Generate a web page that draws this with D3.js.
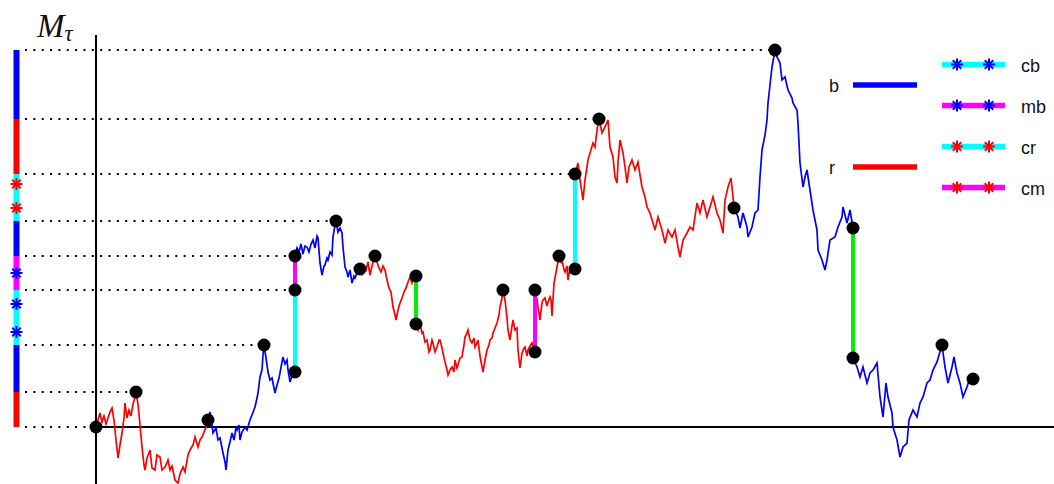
<!DOCTYPE html>
<html>
<head>
<meta charset="utf-8">
<script src="https://cdn.jsdelivr.net/npm/d3@7"></script>
<style>
  html, body { margin: 0; padding: 0; background: #fff; }
  svg { display: block; }
</style>
</head>
<body>
<svg id="chart" width="1054" height="484"></svg>
<script>
// Path of M over time, split into excursions; each entry is [t, M].
const segA = [[0,0],[0.02,0.07],[0.04,0.14],[0.06,0.05],[0.08,0.11],[0.10,0.03],[0.12,0.09],[0.14,0.15],[0.16,0.19],[0.18,0.07],[0.20,-0.13],[0.22,-0.31],[0.24,-0.18],[0.26,-0.06],[0.28,0.09],[0.29,0.24],[0.31,0.09],[0.33,0.17],[0.35,0.11],[0.37,0.23],[0.39,0.30],[0.40,0.35],[0.42,0.23],[0.44,0.02],[0.46,-0.20],[0.48,-0.38],[0.49,-0.43],[0.51,-0.31],[0.54,-0.23],[0.56,-0.41],[0.59,-0.43],[0.61,-0.28],[0.64,-0.30],[0.66,-0.43],[0.69,-0.40],[0.72,-0.33],[0.74,-0.43],[0.76,-0.39],[0.79,-0.53],[0.82,-0.56],[0.84,-0.47],[0.87,-0.40],[0.89,-0.45],[0.92,-0.28],[0.94,-0.23],[0.97,-0.18],[0.99,-0.10],[1.02,-0.20],[1.04,-0.13],[1.06,-0.10],[1.08,-0.05],[1.09,-0.03],[1.11,0.03],[1.12,0.07]];
const segB = [[1.12,0.07],[1.14,0.15],[1.16,0.02],[1.17,-0.06],[1.20,-0.01],[1.22,-0.13],[1.24,-0.11],[1.26,-0.21],[1.27,-0.26],[1.29,-0.35],[1.30,-0.43],[1.32,-0.23],[1.34,-0.15],[1.36,-0.06],[1.38,-0.13],[1.40,-0.01],[1.41,-0.03],[1.43,0.02],[1.44,-0.13],[1.46,-0.05],[1.49,0.00],[1.51,-0.03],[1.54,0.07],[1.56,0.12],[1.59,0.20],[1.61,0.29],[1.62,0.34],[1.64,0.50],[1.66,0.57],[1.67,0.72],[1.68,0.82],[1.70,0.69],[1.72,0.55],[1.74,0.47],[1.76,0.49],[1.78,0.39],[1.79,0.34],[1.81,0.42],[1.83,0.49],[1.84,0.54],[1.86,0.65],[1.87,0.70],[1.89,0.63],[1.91,0.67],[1.92,0.57],[1.94,0.45],[1.96,0.51],[1.99,0.55]];
const segC = [[1.99,1.71],[2.01,1.79],[2.03,1.75],[2.05,1.83],[2.07,1.73],[2.09,1.81],[2.11,1.80],[2.13,1.75],[2.15,1.83],[2.17,1.87],[2.19,1.79],[2.21,1.91],[2.22,1.89],[2.24,1.64],[2.26,1.52],[2.28,1.61],[2.29,1.62],[2.31,1.69],[2.32,1.67],[2.34,1.75],[2.36,1.72],[2.37,1.90],[2.39,2.02],[2.40,2.06],[2.42,1.95],[2.44,1.99],[2.46,1.94],[2.47,1.80],[2.49,1.60],[2.51,1.55],[2.52,1.50],[2.54,1.57],[2.56,1.44],[2.58,1.51],[2.59,1.49],[2.61,1.54],[2.64,1.58]];
const segD = [[2.64,1.58],[2.66,1.53],[2.68,1.61],[2.70,1.57],[2.72,1.65],[2.74,1.52],[2.76,1.61],[2.77,1.65],[2.79,1.71],[2.81,1.65],[2.83,1.59],[2.85,1.55],[2.87,1.61],[2.89,1.57],[2.91,1.47],[2.93,1.39],[2.95,1.35],[2.97,1.20],[2.99,1.12],[3.00,1.07],[3.02,1.17],[3.04,1.24],[3.06,1.29],[3.08,1.35],[3.10,1.39],[3.12,1.45],[3.14,1.50],[3.16,1.44],[3.18,1.51],[3.20,1.51]];
const segE = [[3.20,1.03],[3.22,0.97],[3.24,1.04],[3.26,0.94],[3.27,0.95],[3.29,0.85],[3.31,0.87],[3.33,0.75],[3.34,0.77],[3.36,0.87],[3.37,0.84],[3.39,0.75],[3.41,0.80],[3.43,0.87],[3.44,0.87],[3.46,0.79],[3.47,0.74],[3.49,0.65],[3.51,0.57],[3.52,0.52],[3.54,0.57],[3.56,0.60],[3.58,0.55],[3.59,0.67],[3.61,0.59],[3.62,0.62],[3.64,0.69],[3.66,0.70],[3.68,0.82],[3.69,0.90],[3.71,0.94],[3.72,0.97],[3.74,0.87],[3.76,0.84],[3.78,0.89],[3.79,0.80],[3.81,0.84],[3.82,0.87],[3.84,0.71],[3.86,0.60],[3.87,0.55],[3.89,0.67],[3.91,0.77],[3.93,0.82],[3.94,0.87],[3.96,0.89],[3.97,0.94],[3.99,0.99],[4.01,1.04],[4.03,1.12],[4.04,1.20],[4.06,1.29],[4.07,1.37],[4.09,1.27],[4.11,1.09],[4.12,0.97],[4.14,0.87],[4.16,1.01],[4.17,1.07],[4.19,0.97],[4.21,0.99],[4.22,0.77],[4.24,0.59],[4.26,0.74],[4.28,0.79],[4.29,0.80],[4.31,0.71],[4.32,0.77],[4.34,0.81],[4.36,0.84],[4.39,0.75]];
const segF = [[4.39,1.37],[4.41,1.27],[4.42,1.20],[4.44,1.07],[4.46,1.24],[4.47,1.27],[4.49,1.29],[4.51,1.21],[4.52,1.25],[4.54,1.30],[4.55,1.27],[4.56,1.11],[4.58,1.44],[4.59,1.49],[4.61,1.60],[4.63,1.71],[4.65,1.65],[4.66,1.67],[4.68,1.57],[4.69,1.55],[4.71,1.61],[4.72,1.47],[4.74,1.59],[4.76,1.62],[4.79,1.58]];
const segG = [[4.79,2.53],[4.82,2.64],[4.84,2.47],[4.87,2.27],[4.89,2.47],[4.92,2.67],[4.94,2.74],[4.97,2.84],[4.99,2.80],[5.01,2.97],[5.03,3.08],[5.06,2.94],[5.09,3.00],[5.12,3.07],[5.14,2.80],[5.17,2.70],[5.19,2.50],[5.21,2.44],[5.22,2.64],[5.24,2.87],[5.27,2.74],[5.29,2.60],[5.31,2.44],[5.33,2.60],[5.36,2.67],[5.39,2.57],[5.42,2.65],[5.44,2.52],[5.46,2.40],[5.49,2.30],[5.51,2.20],[5.54,2.14],[5.57,2.04],[5.59,1.97],[5.62,2.10],[5.66,1.97],[5.69,1.84],[5.72,1.97],[5.76,1.90],[5.79,1.97],[5.82,1.80],[5.84,1.70],[5.87,1.87],[5.91,1.94],[5.94,2.00],[5.97,1.97],[6.01,2.24],[6.04,2.14],[6.07,2.27],[6.11,2.10],[6.14,2.20],[6.17,2.30],[6.21,2.14],[6.24,2.07],[6.27,1.94],[6.29,2.27],[6.32,2.40],[6.35,2.49],[6.37,2.30],[6.38,2.19]];
const segH = [[6.38,2.19],[6.42,2.10],[6.44,1.99],[6.47,2.14],[6.51,2.00],[6.52,1.90],[6.56,2.00],[6.59,2.14],[6.62,2.17],[6.64,2.50],[6.66,2.77],[6.69,2.92],[6.71,3.07],[6.72,3.24],[6.74,3.42],[6.76,3.60],[6.79,3.77],[6.81,3.70],[6.84,3.64],[6.86,3.47],[6.89,3.50],[6.92,3.37],[6.96,3.29],[6.97,3.24],[7.01,3.17],[7.02,3.04],[7.04,2.64],[7.07,2.40],[7.09,2.50],[7.11,2.57],[7.14,2.37],[7.17,2.17],[7.21,1.97],[7.22,1.77],[7.26,1.67],[7.29,1.57],[7.31,1.67],[7.34,1.87],[7.39,1.90],[7.42,2.00],[7.46,2.10],[7.47,2.20],[7.51,2.04],[7.54,2.17],[7.57,1.99]];
const segI = [[7.57,0.69],[7.61,0.60],[7.64,0.50],[7.67,0.60],[7.71,0.44],[7.74,0.54],[7.77,0.57],[7.81,0.64],[7.84,0.30],[7.87,0.10],[7.90,0.44],[7.92,0.30],[7.96,0.14],[7.97,0.00],[8.01,-0.13],[8.04,-0.30],[8.07,-0.20],[8.11,-0.16],[8.13,0.07],[8.17,0.17],[8.21,0.10],[8.24,0.24],[8.27,0.30],[8.31,0.44],[8.34,0.47],[8.37,0.57],[8.41,0.65],[8.46,0.82],[8.49,0.60],[8.52,0.44],[8.56,0.60],[8.58,0.70],[8.61,0.54],[8.64,0.44],[8.67,0.30],[8.71,0.40],[8.74,0.50],[8.77,0.48]];

// Which colour each excursion is drawn in.
const segments = [
  { pts: segA, kind: "r" }, { pts: segB, kind: "b" }, { pts: segC, kind: "b" },
  { pts: segD, kind: "r" }, { pts: segE, kind: "r" }, { pts: segF, kind: "r" },
  { pts: segG, kind: "r" }, { pts: segH, kind: "b" }, { pts: segI, kind: "b" }
];

// Jumps: [t, from, to, kind]
const jumps = [
  [1.99, 0.55, 1.37, "c"], [1.99, 1.37, 1.71, "m"], [3.20, 1.51, 1.03, "g"],
  [4.39, 0.75, 1.37, "m"], [4.79, 1.58, 2.53, "c"], [7.57, 1.99, 0.69, "g"]
];

// Marked times: [t, M]
const marks = [[0,0],[0.40,0.35],[1.12,0.07],[1.68,0.82],[1.99,0.55],[1.99,1.37],[1.99,1.71],
  [2.40,2.06],[2.64,1.58],[2.79,1.71],[3.20,1.51],[3.20,1.03],[4.07,1.37],[4.39,1.37],[4.39,0.75],
  [4.63,1.71],[4.79,1.58],[4.79,2.53],[5.03,3.08],[6.38,2.19],[6.79,3.77],[7.57,1.99],[7.57,0.69],
  [8.46,0.82],[8.77,0.48]];

// Record levels: [M, t where the level is reached]
const levels = [[3.77,6.79],[3.08,5.03],[2.53,4.79],[2.06,2.40],[1.71,1.99],[1.37,1.99],[0.82,1.68],[0.35,0.40],[0,0]];

// Side bar: [low, high, kind]
const barParts = [[3.08,3.77,"b"],[2.53,3.08,"r"],[2.06,2.53,"c"],[1.71,2.06,"b"],[1.37,1.71,"m"],[0.82,1.37,"c"],[0.35,0.82,"b"],[0,0.35,"r"]];
// Side bar stars: [M, kind]
const barStars = [[2.43,"r"],[2.19,"r"],[1.54,"b"],[1.23,"b"],[0.95,"b"]];

// Legend entries
const legendLines = [["b","b"],["r","r"]];
const legendStars = [["cb","c","b"],["mb","m","b"],["cr","c","r"],["cm","m","r"]];

const colors = { r: "#ff0000", b: "#0000ff", c: "#00ffff", m: "#ff00ff", g: "#00ee00" };

const svg = d3.select("#chart");
const x = d3.scaleLinear().domain([0, 9.58]).range([96, 1054]);
const y = d3.scaleLinear().domain([-0.57, 3.92]).range([484, 35]);

// dotted record levels
svg.append("g").selectAll("line").data(levels).join("line")
  .attr("x1", 25).attr("x2", d => x(d[1]))
  .attr("y1", d => y(d[0])).attr("y2", d => y(d[0]))
  .attr("stroke", "#000").attr("stroke-width", 2)
  .attr("stroke-dasharray", "2,6.35");

// axes
svg.append("line").attr("x1", x(0)).attr("x2", x(0)).attr("y1", y(3.92)).attr("y2", y(-0.57))
  .attr("stroke", "#000").attr("stroke-width", 2);
svg.append("line").attr("x1", x(0)).attr("x2", x(9.58)).attr("y1", y(0)).attr("y2", y(0))
  .attr("stroke", "#000").attr("stroke-width", 2);

// path
const line = d3.line().x(d => x(d[0])).y(d => y(d[1]));
svg.append("g").selectAll("path").data(segments).join("path")
  .attr("d", d => line(d.pts))
  .attr("fill", "none")
  .attr("stroke", d => colors[d.kind])
  .attr("stroke-width", 1.7)
  .attr("stroke-linejoin", "miter");

// jumps
svg.append("g").selectAll("line").data(jumps).join("line")
  .attr("x1", d => x(d[0])).attr("x2", d => x(d[0]))
  .attr("y1", d => y(d[1])).attr("y2", d => y(d[2]))
  .attr("stroke", d => colors[d[3]]).attr("stroke-width", 4);

// marks
svg.append("g").selectAll("circle").data(marks).join("circle")
  .attr("cx", d => x(d[0])).attr("cy", d => y(d[1])).attr("r", 6.5)
  .attr("fill", "#000");

// asterisk marker
function star(g, cx, cy, r, color) {
  const s = g.append("g").attr("transform", `translate(${cx},${cy})`);
  [0, 45, 90, 135].forEach(a => {
    const rad = a * Math.PI / 180;
    s.append("line")
      .attr("x1", -r * Math.cos(rad)).attr("y1", -r * Math.sin(rad))
      .attr("x2", r * Math.cos(rad)).attr("y2", r * Math.sin(rad))
      .attr("stroke", color).attr("stroke-width", 2);
  });
}

// side bar
const bar = svg.append("g");
bar.selectAll("rect").data(barParts).join("rect")
  .attr("x", 13.5).attr("width", 6)
  .attr("y", d => y(d[1])).attr("height", d => y(d[0]) - y(d[1]))
  .attr("fill", d => colors[d[2]]);
barStars.forEach(d => star(bar, 16.5, y(d[0]), 6, colors[d[1]]));

// title
const title = svg.append("text").attr("x", 37).attr("y", 37)
  .attr("font-family", "'Liberation Serif', 'DejaVu Serif', serif")
  .attr("font-style", "italic").attr("font-size", 33).attr("fill", "#111");
title.append("tspan").text("M");
title.append("tspan").attr("font-size", 23).attr("dy", 4).text("τ");

// legend
const leg = svg.append("g").attr("font-family", "'Liberation Sans', Arial, sans-serif")
  .attr("font-size", 18).attr("fill", "#111");
legendLines.forEach((d, i) => {
  const cy = 85 + i * 82;
  leg.append("text").attr("x", 829).attr("y", cy + 7).text(d[0]);
  leg.append("line").attr("x1", 853).attr("x2", 917).attr("y1", cy).attr("y2", cy)
    .attr("stroke", colors[d[1]]).attr("stroke-width", 5.5);
});
legendStars.forEach((d, i) => {
  const cy = 64.5 + i * 41;
  leg.append("line").attr("x1", 942).attr("x2", 1005).attr("y1", cy).attr("y2", cy)
    .attr("stroke", colors[d[1]]).attr("stroke-width", 5.5);
  star(leg, 957, cy, 6, colors[d[2]]);
  star(leg, 989, cy, 6, colors[d[2]]);
  leg.append("text").attr("x", 1021).attr("y", cy + 7).text(d[0]);
});
</script>
</body>
</html>
